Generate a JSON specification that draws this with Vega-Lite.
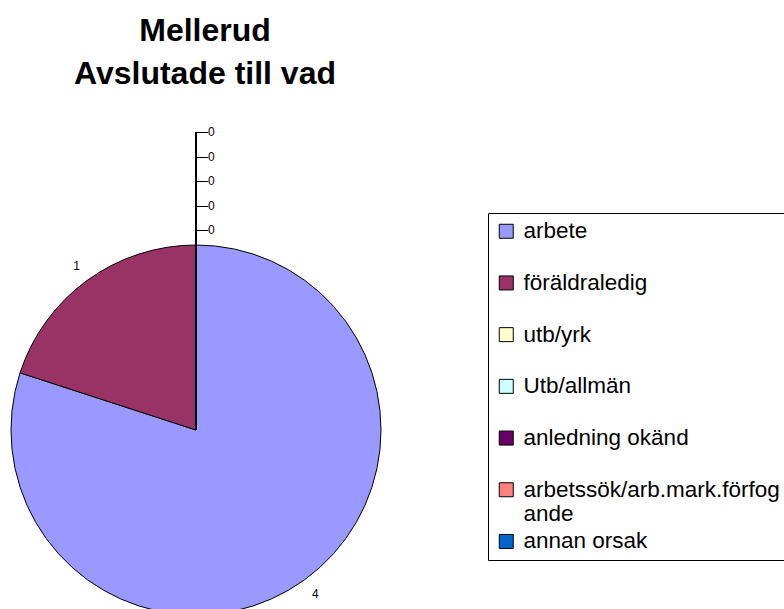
{
  "$schema": "https://vega.github.io/schema/vega-lite/v6.json",
  "width": 392,
  "height": 356,
  "autosize": {"type": "none"},
  "padding": {"left": 0, "top": 252, "right": 392, "bottom": 1},
  "background": "white",
  "config": {"view": {"stroke": null}, "font": "Liberation Sans"},
  "title": {
    "text": ["Mellerud", "Avslutade till vad"],
    "font": "Liberation Sans",
    "fontSize": 32,
    "fontWeight": "bold",
    "color": "black",
    "anchor": "middle",
    "frame": "group",
    "baseline": "bottom",
    "lineHeight": 43,
    "offset": 3,
    "dx": 9
  },
  "data": {
    "values": [
      {"kategori": "arbete", "antal": 4},
      {"kategori": "föräldraledig", "antal": 1},
      {"kategori": "utb/yrk", "antal": 0},
      {"kategori": "Utb/allmän", "antal": 0},
      {"kategori": "anledning okänd", "antal": 0},
      {"kategori": "arbetssök/arb.mark.förfogande", "antal": 0},
      {"kategori": "annan orsak", "antal": 0}
    ]
  },
  "transform": [{"window": [{"op": "row_number", "as": "ordning"}]}],
  "encoding": {
    "theta": {"field": "antal", "type": "quantitative", "stack": true},
    "order": {"field": "ordning", "type": "quantitative"}
  },
  "layer": [
    {
      "mark": {"type": "arc", "radius": 185, "stroke": "black", "strokeWidth": 1},
      "encoding": {
        "color": {
          "field": "kategori",
          "type": "nominal",
          "scale": {
            "domain": ["arbete", "föräldraledig", "utb/yrk", "Utb/allmän", "anledning okänd", "arbetssök/arb.mark.förfogande", "annan orsak"],
            "range": ["#9999FF", "#993366", "#FFFFCC", "#CCFFFF", "#660066", "#FF8080", "#0066CC"]
          },
          "legend": {
            "title": null,
            "orient": "none",
            "legendX": 488,
            "legendY": -39,
            "symbolType": "square",
            "symbolSize": 196,
            "symbolStrokeColor": "black",
            "symbolStrokeWidth": 1,
            "labelFont": "Liberation Sans",
            "labelFontSize": 22.5,
            "labelColor": "black",
            "labelLimit": 400,
            "labelOffset": 6,
            "padding": 7,
            "strokeColor": "black",
            "fillColor": "white",
            "rowPadding": 3.7,
            "gridAlign": "all",
            "labelExpr": "datum.label == 'arbetssök/arb.mark.förfogande' ? ['arbetssök/arb.mark.förfog', 'ande'] : datum.label",
            "encoding": {"labels": {"update": {"lineHeight": {"value": 25}}}}
          }
        }
      }
    },
    {
      "transform": [{"filter": "datum.antal == 0"}],
      "mark": {"type": "arc", "radius": 185, "radius2": 298, "filled": false, "stroke": "black", "strokeWidth": 1},
      "encoding": {}
    },
    {
      "transform": [{"filter": "datum.antal > 0"}],
      "mark": {"type": "text", "radius": 203, "fontSize": 12, "font": "Liberation Sans", "color": "black"},
      "encoding": {"text": {"field": "antal", "type": "quantitative"}}
    },
    {
      "transform": [
        {"filter": "datum.antal == 0"},
        {"window": [{"op": "row_number", "as": "niva"}]},
        {"calculate": "'—' + datum.antal", "as": "etikett"}
      ],
      "mark": {"type": "text", "align": "left", "baseline": "middle", "fontSize": 12, "font": "Liberation Sans", "color": "black"},
      "encoding": {
        "radius": {"field": "niva", "type": "quantitative", "scale": {"type": "linear", "zero": false, "domain": [1, 5], "range": [200, 298]}},
        "text": {"field": "etikett", "type": "nominal"}
      }
    }
  ]
}
